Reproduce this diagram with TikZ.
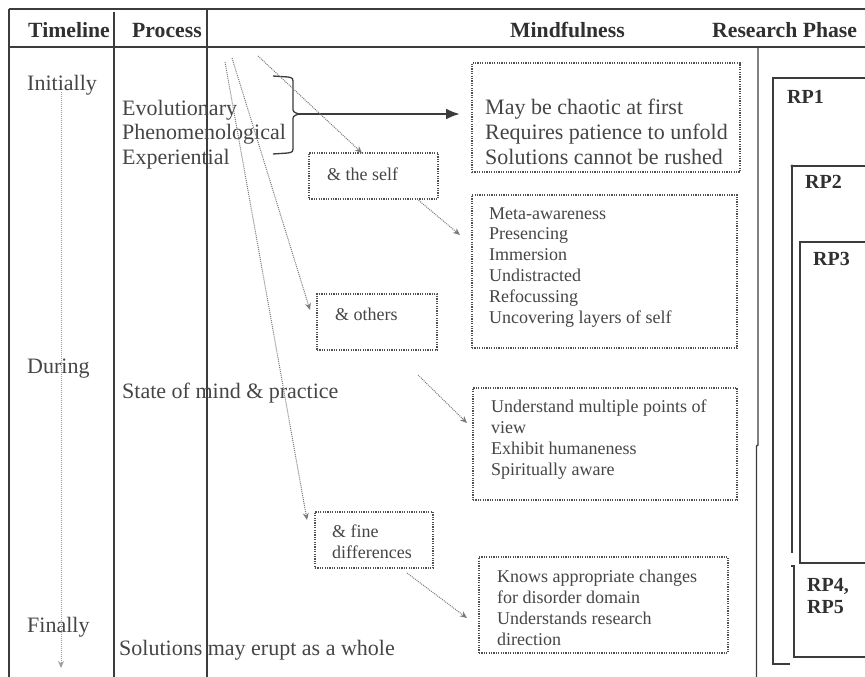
\documentclass[tikz,border=0pt]{standalone}
\usepackage{fontspec}
\setmainfont{Liberation Serif}
\usetikzlibrary{arrows.meta}
\definecolor{ln}{HTML}{3C3C3C}
\definecolor{tx}{HTML}{454545}
\definecolor{hd}{HTML}{303030}
\definecolor{dl}{HTML}{505050}
\definecolor{ar}{HTML}{7A7A7A}
\newcommand\mylines[1]{\vtop{#1}}
\begin{document}
\begin{tikzpicture}[x=1pt,y=-1pt,
  tbl/.style={draw=ln, line width=1.4pt},
  hdr/.style={font=\fontsize{21.7}{24}\selectfont\bfseries, text=hd, inner sep=0, anchor=base west},
  big/.style={font=\fontsize{22}{24}\selectfont, text=tx, inner sep=0, anchor=base west},
  sml/.style={font=\fontsize{18}{21}\selectfont, text=tx, inner sep=0, anchor=base west},
  rp/.style={font=\fontsize{20}{22}\selectfont\bfseries, text=hd, inner sep=0, anchor=base west},
  dbox/.style={draw=dl, line width=1.3pt, dash pattern=on 1.2pt off 1.2pt, inner sep=0, outer sep=0, anchor=north west},
  darr/.style={draw=ar, line width=1pt, dash pattern=on 1pt off 1pt, -{Stealth[length=7pt,width=6pt]}},
]
\useasboundingbox (0,0) rectangle (865,677);
% table lines
\draw[tbl] (9,9) -- (865,9);
\draw[tbl] (9,47) -- (865,47);
\draw[tbl] (9,9) -- (9,677);
\draw[tbl] (114,12) -- (114,677);
\draw[tbl] (207,9) -- (207,677);
% headers
\node[hdr] (hT) at (28,38) {Timeline};
\node[hdr] (hP) at (132,38) {Process};
\node[hdr] (hM) at (510,38) {Mindfulness};
\node[hdr] (hR) at (712,38) {Research Phase};
% timeline
\node[big] (ini) at (27,90) {Initially};
\node[big] (dur) at (27,373) {During};
\node[big] (fin) at (27,632) {Finally};
\coordinate (tA) at (61,92);
\coordinate (tB) at (61,668);
\draw[darr, draw=gray!75] (tA) -- (tB);
% process
\node[big] (evo) at (122,115) {\mylines{\baselineskip=24.5pt\hbox{Evolutionary}\hbox{Phenomenological}\hbox{Experiential}}};
\node[big] (som) at (122,398) {State of mind \& practice};
\node[big] (sol) at (119,655) {Solutions may erupt as a whole};
% brace
\draw[draw=ln, line width=1.3pt, line join=round] (273,76) -- (288,77) .. controls (293,78) .. (293,84) -- (293,107) .. controls (293,112) .. (299,114) .. controls (293,116) .. (293,121) -- (293,146) .. controls (293,152) .. (288,153) -- (273,154);
\coordinate (bt) at (299,114);
% mindfulness boxes
\node[dbox, minimum width=268, minimum height=109] (m1) at (472,63) {};
\node[big] (m1t) at (485,114) {\mylines{\baselineskip=25pt\hbox{May be chaotic at first}\hbox{Requires patience to unfold}\hbox{Solutions cannot be rushed}}};
\node[dbox, minimum width=129, minimum height=46] (self) at (309,153) {};
\node[sml] (selft) at (327,180) {\& the self};
\node[dbox, minimum width=265, minimum height=153] (m2) at (472,195) {};
\node[sml] (m2t) at (489,219) {\mylines{\baselineskip=20.8pt\hbox{Meta-awareness}\hbox{Presencing}\hbox{Immersion}\hbox{Undistracted}\hbox{Refocussing}\hbox{Uncovering layers of self}}};
\node[dbox, minimum width=120, minimum height=56] (oth) at (317,294) {};
\node[sml] (otht) at (335,320) {\& others};
\node[dbox, minimum width=264, minimum height=112] (m3) at (473,388) {};
\node[sml] (m3t) at (491,412) {\mylines{\baselineskip=21pt\hbox{Understand multiple points of}\hbox{view}\hbox{Exhibit humaneness}\hbox{Spiritually aware}}};
\node[dbox, minimum width=118, minimum height=56] (fine) at (315,512) {};
\node[sml] (finet) at (332,537) {\mylines{\baselineskip=21pt\hbox{\& fine}\hbox{differences}}};
\node[dbox, minimum width=249, minimum height=96] (m4) at (479,557) {};
\node[sml] (m4t) at (497,582) {\mylines{\baselineskip=21pt\hbox{Knows appropriate changes}\hbox{for disorder domain}\hbox{Understands research}\hbox{direction}}};
% arrows
\draw[draw=ln, line width=2.5pt, -{Latex[length=14pt,width=11pt]}, shorten >=12pt] (bt) -- (bt -| m1.west);
\coordinate (sA) at (258,56);
\coordinate (sB) at (232,58);
\coordinate (sC) at (225,62);
\draw[darr] (sA) -- ([xshift=-11.5]self.north);
\draw[darr] (sB) -- ([shift={(-7,-12)}]oth.west);
\draw[darr] (sC) -- ([shift={(-8,-20)}]fine.west);
\draw[darr] ([xshift=43.5]self.south) -- ([shift={(-12,-36.5)}]m2.west);
\draw[darr] ([shift={(-19,25)}]oth.south east) -- ([shift={(-6,-21)}]m3.west);
\draw[darr] ([shift={(-26,5)}]fine.south east) -- ([shift={(-12,13)}]m4.west);
% research phases
\draw[tbl] (758,47) -- (758,445) -- (756.5,446) -- (756.5,677);
\draw[tbl] (865,78) -- (773,78) -- (773,664) -- (790,664);
\draw[tbl] (865,166) -- (792,166) -- (792,553);
\fill[ln] (792,166) circle (1.6);
\draw[tbl] (865,242) -- (800,242) -- (800,563) -- (865,563);
\draw[tbl] (791,566) -- (794,566) -- (794,657) -- (865,657);
\node[rp] (rp1) at (787,103) {RP1};
\node[rp] (rp2) at (805,188) {RP2};
\node[rp] (rp3) at (813,265) {RP3};
\node[rp] (rp45) at (807,591) {\mylines{\baselineskip=22pt\hbox{RP4,}\hbox{RP5}}};
\end{tikzpicture}
\end{document}
